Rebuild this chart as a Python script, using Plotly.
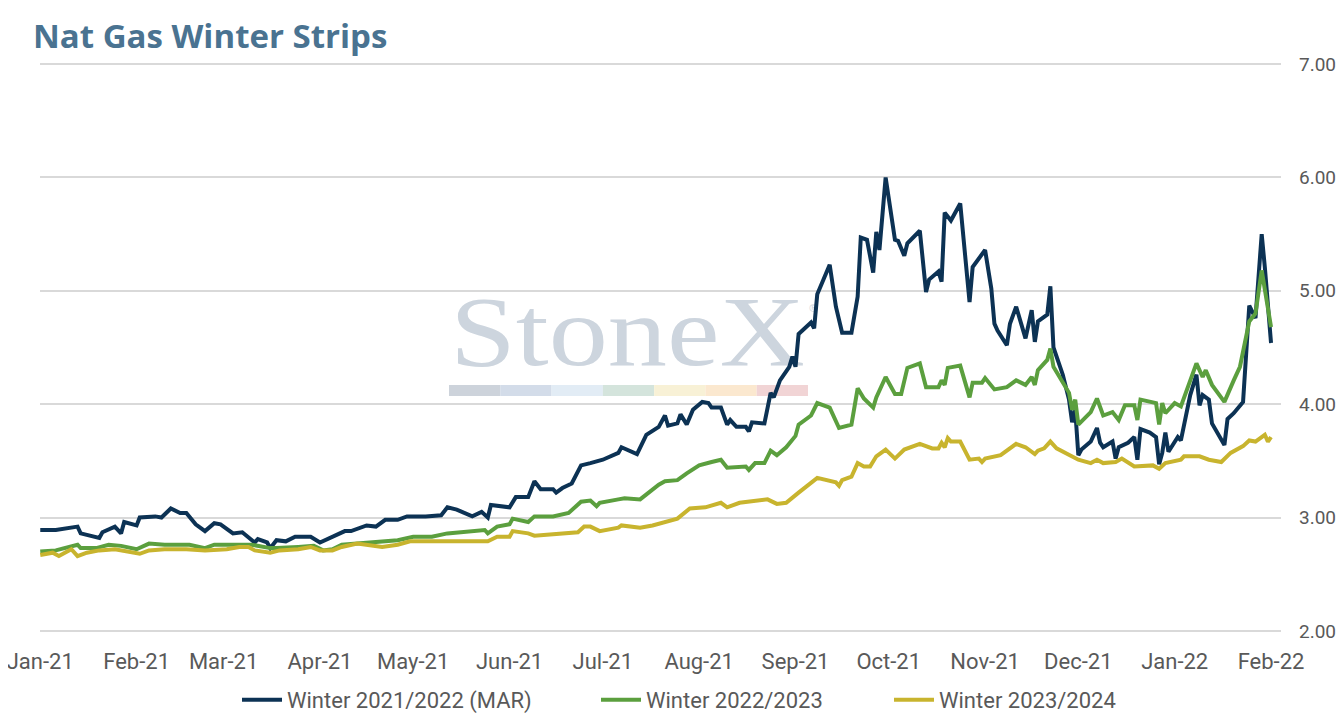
'''Nat Gas Winter Strips - recreation plotly'''
import base64
import plotly.graph_objects as go

# ---- donnees ----
TITLE = "Nat Gas Winter Strips"
SERIES_NAMES = ["Winter 2021/2022 (MAR)", "Winter 2022/2023", "Winter 2023/2024"]
SERIES_COLORS = ["#0c3254", "#5b9f3e", "#c8b42e"]

W2122_DATES = [
    "2021-01-01", "2021-01-06", "2021-01-13", "2021-01-14", "2021-01-20", "2021-01-21",
    "2021-01-25", "2021-01-27", "2021-01-28", "2021-02-01", "2021-02-02", "2021-02-07",
    "2021-02-09", "2021-02-12", "2021-02-15", "2021-02-17", "2021-02-20", "2021-02-23",
    "2021-02-26", "2021-02-28", "2021-03-04", "2021-03-07", "2021-03-11", "2021-03-12",
    "2021-03-15", "2021-03-16", "2021-03-18", "2021-03-21", "2021-03-24", "2021-03-29",
    "2021-04-01", "2021-04-05", "2021-04-09", "2021-04-11", "2021-04-16", "2021-04-19",
    "2021-04-22", "2021-04-26", "2021-04-29", "2021-05-05", "2021-05-10", "2021-05-12",
    "2021-05-15", "2021-05-20", "2021-05-23", "2021-05-25", "2021-05-26", "2021-06-01",
    "2021-06-03", "2021-06-07", "2021-06-09", "2021-06-11", "2021-06-15", "2021-06-16",
    "2021-06-18", "2021-06-21", "2021-06-24", "2021-06-27", "2021-07-01", "2021-07-06",
    "2021-07-07", "2021-07-12", "2021-07-15", "2021-07-19", "2021-07-21", "2021-07-22",
    "2021-07-25", "2021-07-26", "2021-07-28", "2021-07-30", "2021-08-02", "2021-08-04",
    "2021-08-05", "2021-08-08", "2021-08-10", "2021-08-11", "2021-08-13", "2021-08-16",
    "2021-08-17", "2021-08-18", "2021-08-22", "2021-08-24", "2021-08-25", "2021-08-27",
    "2021-08-30", "2021-08-31", "2021-09-01", "2021-09-02", "2021-09-06", "2021-09-07",
    "2021-09-08", "2021-09-10", "2021-09-12", "2021-09-14", "2021-09-16", "2021-09-19",
    "2021-09-21", "2021-09-22", "2021-09-24", "2021-09-26", "2021-09-27", "2021-09-28",
    "2021-09-30", "2021-10-03", "2021-10-04", "2021-10-06", "2021-10-07", "2021-10-11",
    "2021-10-13", "2021-10-14", "2021-10-17", "2021-10-18", "2021-10-19", "2021-10-21",
    "2021-10-24", "2021-10-27", "2021-10-28", "2021-11-01", "2021-11-03", "2021-11-04",
    "2021-11-05", "2021-11-08", "2021-11-09", "2021-11-11", "2021-11-14", "2021-11-16",
    "2021-11-17", "2021-11-18", "2021-11-21", "2021-11-22", "2021-11-23", "2021-11-26",
    "2021-11-28", "2021-11-29", "2021-11-30", "2021-12-01", "2021-12-02", "2021-12-05",
    "2021-12-07", "2021-12-08", "2021-12-09", "2021-12-12", "2021-12-13", "2021-12-14",
    "2021-12-17", "2021-12-19", "2021-12-20", "2021-12-21", "2021-12-24", "2021-12-26",
    "2021-12-27", "2021-12-28", "2021-12-29", "2021-12-30", "2021-12-31", "2022-01-02",
    "2022-01-03", "2022-01-04", "2022-01-06", "2022-01-08", "2022-01-09", "2022-01-10",
    "2022-01-12", "2022-01-13", "2022-01-15", "2022-01-17", "2022-01-18", "2022-01-20",
    "2022-01-23", "2022-01-25", "2022-01-27", "2022-01-29", "2022-01-30", "2022-02-01",
]
W2122_VALUES = [
    2.89, 2.89, 2.92, 2.86, 2.82, 2.87,
    2.92, 2.86, 2.96, 2.93, 3.00, 3.01,
    3.00, 3.08, 3.04, 3.04, 2.94, 2.88,
    2.95, 2.94, 2.86, 2.87, 2.78, 2.81,
    2.78, 2.73, 2.80, 2.79, 2.83, 2.83,
    2.78, 2.83, 2.88, 2.88, 2.93, 2.92,
    2.98, 2.98, 3.01, 3.01, 3.02, 3.09,
    3.07, 3.01, 3.05, 3.00, 3.11, 3.09,
    3.18, 3.18, 3.32, 3.25, 3.25, 3.22,
    3.26, 3.30, 3.46, 3.48, 3.51, 3.57,
    3.62, 3.56, 3.73, 3.80, 3.90, 3.81,
    3.83, 3.91, 3.82, 3.95, 4.02, 4.01,
    3.97, 3.97, 3.82, 3.86, 3.80, 3.80,
    3.76, 3.84, 3.83, 4.10, 4.06, 4.21,
    4.33, 4.42, 4.33, 4.62, 4.72, 4.67,
    4.97, 5.10, 5.23, 4.86, 4.63, 4.63,
    4.95, 5.47, 5.45, 5.16, 5.52, 5.36,
    6.00, 5.45, 5.44, 5.31, 5.42, 5.53,
    4.99, 5.10, 5.17, 5.08, 5.69, 5.62,
    5.77, 4.90, 5.21, 5.36, 5.02, 4.71,
    4.65, 4.52, 4.71, 4.86, 4.58, 4.83,
    4.55, 4.73, 4.79, 5.04, 4.50, 4.26,
    4.04, 3.84, 3.95, 3.55, 3.60, 3.67,
    3.79, 3.66, 3.62, 3.67, 3.52, 3.62,
    3.66, 3.71, 3.51, 3.78, 3.75, 3.71,
    3.47, 3.57, 3.75, 3.58, 3.62, 3.71,
    3.68, 3.80, 4.08, 4.26, 3.99, 4.08,
    4.04, 3.83, 3.73, 3.64, 3.87, 3.92,
    4.02, 4.87, 4.76, 5.50, 5.21, 4.54,
]

W2223_DATES = [
    "2021-01-01", "2021-01-06", "2021-01-13", "2021-01-14", "2021-01-19", "2021-01-23",
    "2021-01-27", "2021-02-01", "2021-02-05", "2021-02-10", "2021-02-18", "2021-02-23",
    "2021-02-26", "2021-03-04", "2021-03-10", "2021-03-16", "2021-03-18", "2021-03-25",
    "2021-03-30", "2021-04-02", "2021-04-05", "2021-04-08", "2021-04-16", "2021-04-21",
    "2021-04-26", "2021-05-01", "2021-05-07", "2021-05-12", "2021-05-24", "2021-05-25",
    "2021-05-28", "2021-06-01", "2021-06-02", "2021-06-07", "2021-06-09", "2021-06-15",
    "2021-06-20", "2021-06-24", "2021-06-27", "2021-06-29", "2021-06-30", "2021-07-06",
    "2021-07-08", "2021-07-13", "2021-07-16", "2021-07-19", "2021-07-21", "2021-07-25",
    "2021-07-28", "2021-08-01", "2021-08-05", "2021-08-08", "2021-08-10", "2021-08-16",
    "2021-08-17", "2021-08-19", "2021-08-22", "2021-08-24", "2021-08-26", "2021-08-29",
    "2021-09-01", "2021-09-02", "2021-09-06", "2021-09-08", "2021-09-12", "2021-09-15",
    "2021-09-19", "2021-09-21", "2021-09-23", "2021-09-26", "2021-09-27", "2021-09-30",
    "2021-10-03", "2021-10-05", "2021-10-07", "2021-10-11", "2021-10-13", "2021-10-17",
    "2021-10-18", "2021-10-19", "2021-10-20", "2021-10-24", "2021-10-27", "2021-10-28",
    "2021-10-31", "2021-11-01", "2021-11-04", "2021-11-08", "2021-11-11", "2021-11-14",
    "2021-11-16", "2021-11-17", "2021-11-18", "2021-11-21", "2021-11-22", "2021-11-23",
    "2021-11-28", "2021-11-29", "2021-11-30", "2021-12-01", "2021-12-05", "2021-12-07",
    "2021-12-09", "2021-12-12", "2021-12-14", "2021-12-16", "2021-12-19", "2021-12-20",
    "2021-12-21", "2021-12-26", "2021-12-27", "2021-12-28", "2021-12-29", "2022-01-01",
    "2022-01-03", "2022-01-06", "2022-01-08", "2022-01-10", "2022-01-11", "2022-01-13",
    "2022-01-17", "2022-01-20", "2022-01-22", "2022-01-25", "2022-01-27", "2022-01-29",
    "2022-02-01",
]
W2223_VALUES = [
    2.70, 2.71, 2.76, 2.73, 2.73, 2.76,
    2.75, 2.72, 2.77, 2.76, 2.76, 2.73,
    2.76, 2.76, 2.76, 2.73, 2.73, 2.74,
    2.75, 2.71, 2.72, 2.76, 2.78, 2.79,
    2.80, 2.83, 2.83, 2.86, 2.89, 2.86,
    2.92, 2.94, 2.99, 2.96, 3.01, 3.01,
    3.04, 3.14, 3.15, 3.10, 3.13, 3.16,
    3.17, 3.16, 3.23, 3.29, 3.32, 3.33,
    3.39, 3.46, 3.49, 3.51, 3.44, 3.45,
    3.42, 3.48, 3.48, 3.59, 3.55, 3.62,
    3.72, 3.82, 3.90, 4.01, 3.97, 3.79,
    3.82, 4.14, 4.05, 3.97, 4.06, 4.24,
    4.09, 4.09, 4.32, 4.36, 4.15, 4.15,
    4.21, 4.17, 4.32, 4.34, 4.06, 4.19,
    4.19, 4.23, 4.13, 4.15, 4.21, 4.17,
    4.24, 4.17, 4.30, 4.39, 4.49, 4.33,
    4.10, 3.95, 4.04, 3.82, 3.93, 4.05,
    3.90, 3.93, 3.86, 3.99, 3.99, 3.86,
    4.04, 4.01, 3.82, 4.01, 3.92, 4.01,
    3.98, 4.21, 4.36, 4.24, 4.30, 4.17,
    4.02, 4.21, 4.33, 4.73, 4.80, 5.18,
    4.68,
]

W2324_DATES = [
    "2021-01-01", "2021-01-05", "2021-01-07", "2021-01-10", "2021-01-11", "2021-01-13",
    "2021-01-16", "2021-01-20", "2021-01-25", "2021-02-02", "2021-02-05", "2021-02-10",
    "2021-02-17", "2021-02-23", "2021-03-02", "2021-03-06", "2021-03-09", "2021-03-11",
    "2021-03-16", "2021-03-19", "2021-03-25", "2021-03-29", "2021-04-01", "2021-04-05",
    "2021-04-08", "2021-04-13", "2021-04-16", "2021-04-21", "2021-04-26", "2021-04-30",
    "2021-05-07", "2021-05-19", "2021-05-25", "2021-05-28", "2021-06-01", "2021-06-02",
    "2021-06-07", "2021-06-09", "2021-06-18", "2021-06-23", "2021-06-25", "2021-06-27",
    "2021-06-30", "2021-07-06", "2021-07-07", "2021-07-13", "2021-07-17", "2021-07-25",
    "2021-07-29", "2021-08-03", "2021-08-08", "2021-08-10", "2021-08-14", "2021-08-23",
    "2021-08-26", "2021-08-29", "2021-09-02", "2021-09-08", "2021-09-14", "2021-09-15",
    "2021-09-16", "2021-09-19", "2021-09-21", "2021-09-23", "2021-09-25", "2021-09-27",
    "2021-09-30", "2021-10-03", "2021-10-06", "2021-10-11", "2021-10-15", "2021-10-17",
    "2021-10-18", "2021-10-19", "2021-10-20", "2021-10-21", "2021-10-24", "2021-10-27",
    "2021-10-30", "2021-10-31", "2021-11-01", "2021-11-06", "2021-11-11", "2021-11-14",
    "2021-11-17", "2021-11-18", "2021-11-20", "2021-11-22", "2021-11-24", "2021-11-28",
    "2021-12-01", "2021-12-05", "2021-12-07", "2021-12-09", "2021-12-13", "2021-12-15",
    "2021-12-19", "2021-12-25", "2021-12-27", "2021-12-29", "2022-01-03", "2022-01-04",
    "2022-01-09", "2022-01-12", "2022-01-16", "2022-01-19", "2022-01-23", "2022-01-25",
    "2022-01-27", "2022-01-30", "2022-01-31", "2022-02-01",
]
W2324_VALUES = [
    2.67, 2.69, 2.66, 2.71, 2.72, 2.66,
    2.69, 2.71, 2.72, 2.68, 2.71, 2.72,
    2.72, 2.71, 2.72, 2.74, 2.74, 2.71,
    2.69, 2.71, 2.72, 2.74, 2.71, 2.71,
    2.74, 2.77, 2.76, 2.74, 2.76, 2.79,
    2.79, 2.79, 2.79, 2.83, 2.83, 2.88,
    2.86, 2.84, 2.86, 2.87, 2.92, 2.92,
    2.88, 2.91, 2.93, 2.91, 2.93, 2.99,
    3.08, 3.09, 3.13, 3.09, 3.13, 3.16,
    3.12, 3.13, 3.22, 3.35, 3.31, 3.28,
    3.33, 3.36, 3.48, 3.45, 3.45, 3.54,
    3.60, 3.52, 3.60, 3.65, 3.61, 3.61,
    3.66, 3.62, 3.70, 3.67, 3.67, 3.51,
    3.52, 3.49, 3.52, 3.55, 3.65, 3.62,
    3.56, 3.59, 3.61, 3.67, 3.61, 3.55,
    3.51, 3.48, 3.51, 3.48, 3.49, 3.52,
    3.45, 3.46, 3.43, 3.48, 3.51, 3.54,
    3.54, 3.51, 3.49, 3.57, 3.63, 3.68,
    3.67, 3.73, 3.67, 3.71,
]

Y_TICKS = [2, 3, 4, 5, 6, 7]
WATERMARK_COLORS = ["#cdd3db", "#d3dce9", "#e2ecf5", "#d4e4dc",
                    "#f8f1d6", "#fbe8cf", "#f1d4d5"]

# la page html ajoute 8px de marge: tout est decale de 8px
OFF = 8
TICK_FONT = dict(family="Roboto, Liberation Sans, sans-serif", size=22, color="#595959")
YTICK_FONT = dict(family="Roboto, Liberation Sans, sans-serif", size=19, color="#595959")
# debut du symbole de chaque entree de legende (px, image de reference)
LEGEND_X = [243, 603, 896]


def watermark_image():
    '''logo StoneX en svg, sous les courbes'''
    svg = ('<svg xmlns="http://www.w3.org/2000/svg" width="370" height="80" viewBox="0 0 370 80">'
           '<text x="0" y="75" font-family="Liberation Serif, DejaVu Serif, serif" '
           'font-size="100" fill="#cdd5de" textLength="355" lengthAdjust="spacingAndGlyphs">StoneX</text>'
           '<text x="358" y="22" font-family="DejaVu Sans" font-size="11" fill="#cdd5de">&#174;</text>'
           '</svg>')
    return "data:image/svg+xml;base64," + base64.b64encode(svg.encode()).decode()


def build_fig():
    '''construit la figure'''
    # taille reduite pour que la page (marge 8px) tienne dans la fenetre
    W, H = 1344 - 2 * OFF, 722 - 2 * OFF
    fig = go.Figure()
    all_dates = [W2122_DATES, W2223_DATES, W2324_DATES]
    all_vals = [W2122_VALUES, W2223_VALUES, W2324_VALUES]
    legends = ["legend", "legend2", "legend3"]
    for name, col, d, v, lg in zip(SERIES_NAMES, SERIES_COLORS, all_dates, all_vals, legends):
        fig.add_trace(go.Scatter(x=d, y=v, name=name, mode="lines", legend=lg,
                                 line=dict(color=col, width=4)))

    # zone de trace (coordonnees de reference): x 40..1281, y 63..632
    pw, ph = 1241.0, 569.0
    fig.add_layout_image(dict(source=watermark_image(), xref="paper", yref="paper",
                              x=(450 - 40) / pw, y=(632 - 290) / ph,
                              sizex=370 / pw, sizey=80 / ph, sizing="stretch",
                              xanchor="left", yanchor="top", layer="below"))
    seg = (808 - 449) / len(WATERMARK_COLORS)
    for i, c in enumerate(WATERMARK_COLORS):
        x0 = 449 + i * seg
        fig.add_shape(type="rect", xref="paper", yref="paper",
                      x0=(x0 - 40) / pw, x1=(x0 + seg - 40) / pw,
                      y0=(632 - 396) / ph, y1=(632 - 385) / ph,
                      fillcolor=c, line_width=0, layer="below")

    leg_common = dict(orientation="h", xref="container", yref="container",
                      xanchor="left", y=1 - (700 - OFF) / H, yanchor="middle",
                      font=TICK_FONT, itemwidth=40, bgcolor="rgba(0,0,0,0)")
    fig.update_layout(
        width=W, height=H,
        margin=dict(l=40 - OFF, r=W - (1281 - OFF), t=63 - OFF, b=H - (632 - OFF),
                    autoexpand=False),
        paper_bgcolor="white", plot_bgcolor="white",
        title=dict(text=TITLE, x=(33 - OFF) / W, xanchor="left",
                   y=1 - (36 - OFF) / H, yanchor="middle", xref="container", yref="container",
                   font=dict(family="Open Sans, Lato, sans-serif", size=33, weight=700,
                             color="#4a7391")),
        showlegend=True,
        legend=dict(leg_common, x=(LEGEND_X[0] - OFF - 6) / W),
        legend2=dict(leg_common, x=(LEGEND_X[1] - OFF - 7) / W),
        legend3=dict(leg_common, x=(LEGEND_X[2] - OFF - 7) / W),
        xaxis=dict(type="date", range=["2020-12-31 22:00", "2022-02-04 05:00"],
                   tick0="2021-01-01", dtick="M1", tickformat="%b-%y",
                   showgrid=False, zeroline=False, showline=False, ticks="",
                   tickfont=TICK_FONT, ticklabelstandoff=14,
                   automargin=False, ticklabeloverflow="allow"),
        yaxis=dict(side="right", range=[1.99, 7.01], tickvals=Y_TICKS, tickformat=".2f",
                   showgrid=True, gridcolor="#d9d9d9", gridwidth=1.5, zeroline=False,
                   showline=False, ticks="", tickfont=YTICK_FONT, ticklabelstandoff=17,
                   automargin=False, ticklabeloverflow="allow"),
    )
    return fig


def main():
    '''main'''
    fig = build_fig()
    fig.write_html("out.html")


if __name__ == "__main__":
    main()
